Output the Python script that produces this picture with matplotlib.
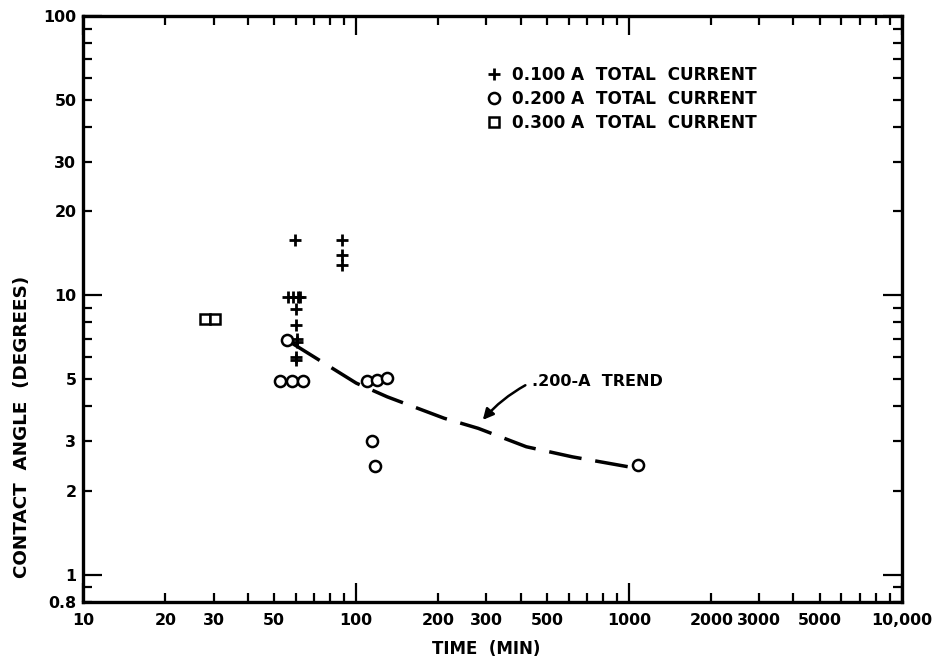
import numpy as np
import matplotlib
matplotlib.use('Agg')
import matplotlib.pyplot as plt
from matplotlib.ticker import FixedLocator

plt.rcParams['font.family'] = 'DejaVu Sans'
plt.rcParams['font.weight'] = 'bold'

# datos (tiempo en min, angulo en grados)
t_100 = [59.7, 88.5, 88.5, 88.5, 56.4, 58.8, 61.4, 62.5, 60.0, 60.0, 60.5, 60.5, 60.0, 60.0]
ang_100 = [15.8, 15.8, 13.9, 12.8, 9.9, 9.9, 9.9, 9.9, 8.9, 7.8, 7.0, 6.8, 6.0, 5.85]

t_200 = [55.6, 52.6, 58.0, 63.7, 109.3, 118.9, 129.4, 114.5, 117.2, 1081]
ang_200 = [6.9, 4.95, 4.95, 4.95, 4.93, 4.98, 5.05, 3.0, 2.45, 2.47]

t_300 = [27.9, 30.4]
ang_300 = [8.2, 8.2]

# curva de tendencia 0.200 A
t_trend = [58, 100, 130, 210, 280, 420, 620, 1000]
ang_trend = [6.75, 4.85, 4.33, 3.63, 3.34, 2.87, 2.64, 2.43]

x_major = [10, 100, 1000, 10000]
x_labels = {10: '10', 20: '20', 30: '30', 50: '50', 100: '100', 200: '200', 300: '300',
            500: '500', 1000: '1000', 2000: '2000', 3000: '3000', 5000: '5000', 10000: '10,000'}
y_major = [1, 10, 100]
y_labels = {0.8: '0.8', 1: '1', 2: '2', 3: '3', 5: '5', 10: '10', 20: '20', 30: '30', 50: '50', 100: '100'}

fig = plt.figure(figsize=(9.41, 6.65), dpi=100)
ax = fig.add_axes([83.3 / 941, 1 - 601.7 / 665, (902 - 83.3) / 941, (601.7 - 16) / 665])
ax.set_xscale('log')
ax.set_yscale('log')
ax.set_xlim(10, 10000)
ax.set_ylim(0.8, 100)

h1, = ax.plot(t_100, ang_100, linestyle='none', marker='+', ms=9, mew=2, color='black',
              label='0.100 A  TOTAL  CURRENT')
h2, = ax.plot(t_200, ang_200, linestyle='none', marker='o', ms=8, mew=1.8, mfc='white',
              mec='black', label='0.200 A  TOTAL  CURRENT')
h3, = ax.plot(t_300, ang_300, linestyle='none', marker='s', ms=7.5, mew=1.8, mfc='white',
              mec='black', label='0.300 A  TOTAL  CURRENT')
ax.plot(t_trend, ang_trend, color='black', lw=2.5, linestyle=(0, (9.5, 4)), zorder=1)

# ticks
x_minor = [m * d for d in [10, 100, 1000] for m in range(2, 10)]
y_minor = [0.8, 0.9] + [m * d for d in [1, 10] for m in range(2, 10)]
ax.xaxis.set_major_locator(FixedLocator(x_major))
ax.xaxis.set_minor_locator(FixedLocator(x_minor))
ax.yaxis.set_major_locator(FixedLocator(y_major))
ax.yaxis.set_minor_locator(FixedLocator(y_minor))
ax.set_xticklabels([x_labels[v] for v in x_major])
ax.set_xticklabels([x_labels.get(v, '') for v in x_minor], minor=True)
ax.set_yticklabels([y_labels[v] for v in y_major])
ax.set_yticklabels([y_labels.get(v, '') for v in y_minor], minor=True)

ax.tick_params(which='both', direction='in', top=True, right=True, width=1.6,
               labelsize=11.4, colors='black')
ax.tick_params(which='major', length=13.5)
ax.tick_params(which='minor', length=6.5)
ax.tick_params(axis='x', which='both', pad=8)
ax.tick_params(axis='y', which='both', pad=5)
for s in ax.spines.values():
    s.set_linewidth(2.4)

fig.text(486 / 941, 1 - 649 / 665, 'TIME  (MIN)', ha='center', va='center', fontsize=12,
         fontweight='bold')
fig.text(21.7 / 941, 1 - 427 / 665, 'CONTACT  ANGLE  (DEGREES)', ha='center', va='center',
         rotation=90, fontsize=13.2, fontweight='bold')

ax.legend(handles=[h1, h2, h3], loc='upper left', bbox_to_anchor=(0.473, 0.94),
          frameon=False, handlelength=1.0, handletextpad=0.55, labelspacing=0.33,
          prop={'size': 12.2, 'weight': 'bold'})

ax.annotate('.200-A  TREND', xy=(291, 3.58), xytext=(440, 4.9), ha='left', va='center',
            fontsize=11.5, fontweight='bold',
            arrowprops=dict(arrowstyle='-|>', connectionstyle='arc3,rad=0.1', lw=1.8,
                            color='black', mutation_scale=16, shrinkA=3, shrinkB=0,
                            relpos=(0, 0.5)))

fig.savefig('out.png', dpi=100)
